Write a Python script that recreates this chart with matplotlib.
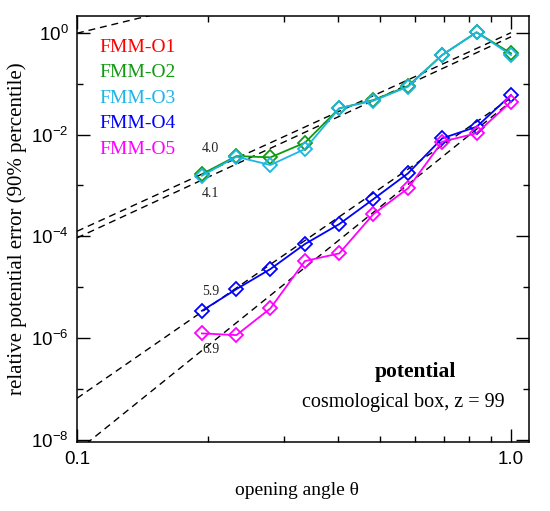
import matplotlib
matplotlib.use("Agg")
import matplotlib.pyplot as plt
from matplotlib.ticker import FixedLocator, NullFormatter

# opening angles (theta) of the runs
theta = [0.194, 0.233, 0.279, 0.335, 0.402, 0.482, 0.579, 0.694, 0.833, 1.0]

# 90% percentile of relative potential error per FMM order
err_o2 = [1.67e-3, 3.78e-3, 3.56e-3, 6.9e-3, 3.27e-2, 4.76e-2, 8.97e-2, 0.365, 1.02, 0.394]
err_o3 = [1.55e-3, 3.66e-3, 2.52e-3, 5.19e-3, 3.27e-2, 4.61e-2, 8.69e-2, 0.365, 1.02, 0.365]
err_o4 = [3.45e-6, 9.2e-6, 2.28e-5, 7.06e-5, 1.74e-4, 5.4e-4, 1.73e-3, 8.42e-3, 1.42e-2, 5.97e-2]
err_o5 = [1.24e-6, 1.15e-6, 3.85e-6, 3.27e-5, 4.63e-5, 2.74e-4, 8.77e-4, 7.22e-3, 1.06e-2, 4.41e-2]

names = ["FMM-O1", "FMM-O2", "FMM-O3", "FMM-O4", "FMM-O5"]
colors = ["#ff0000", "#109a10", "#1cb6e6", "#0000ff", "#ff00ff"]

# power-law guide lines: value at theta=0.1 and theta=1.0
fit_theta = [0.1, 1.0]
fit_o1 = [10**-0.01, 10**2.06]
fit_a = [10**-3.90, 10**0.0]
fit_b = [10**-4.03, 10**-0.08]
fit_c = [10**-7.18, 10**-1.28]
fit_d = [10**-8.22, 10**-1.35]
slope_labels = ["4.0", "4.1", "5.9", "6.9"]

serif = "Liberation Serif"
sans = "Liberation Sans"

fig = plt.figure(figsize=(5.5, 5.11), dpi=100)
ax = fig.add_axes([0.140, 0.1356, 0.8218, 0.8331])
ax.set_xscale("log")
ax.set_yscale("log")

for fy in [fit_o1, fit_a, fit_b, fit_c, fit_d]:
    ax.plot(fit_theta, fy, color="black", lw=1.0, dashes=(5, 3.5), zorder=1)

for err, c in zip([err_o2, err_o3, err_o4, err_o5], colors[1:]):
    ax.plot(theta, err, color=c, lw=1.3, marker="D", ms=6.8, mfc="none",
            mec=c, mew=1.3, zorder=2)

ax.set_xlim(0.1, 1.10)
ax.set_ylim(9.26e-9, 2.13)

ax.xaxis.set_major_locator(FixedLocator([0.1, 1.0]))
ax.xaxis.set_minor_locator(FixedLocator([0.2, 0.3, 0.4, 0.5, 0.6, 0.7, 0.8, 0.9]))
ax.set_xticklabels(["0.1", "1.0"])
ax.xaxis.set_minor_formatter(NullFormatter())

ax.yaxis.set_major_locator(FixedLocator([1e-8, 1e-6, 1e-4, 1e-2, 1e0]))
ax.yaxis.set_minor_locator(FixedLocator([1e-7, 1e-5, 1e-3, 1e-1]))
ax.set_yticklabels([r"$\mathdefault{10^{-8}}$", r"$\mathdefault{10^{-6}}$",
                    r"$\mathdefault{10^{-4}}$", r"$\mathdefault{10^{-2}}$",
                    r"$\mathdefault{10^{0}}$"])
ax.yaxis.set_minor_formatter(NullFormatter())

ax.tick_params(which="both", direction="in", top=True, right=True, width=1.0)
ax.tick_params(which="major", length=9.5, pad=7, labelsize=13.5)
ax.tick_params(axis="y", which="major", pad=6)
ax.tick_params(which="minor", length=4.5)
for lab in ax.get_xticklabels() + ax.get_yticklabels():
    lab.set_fontfamily(sans)
for sp in ax.spines.values():
    sp.set_linewidth(1.1)

ax.set_xlabel("opening angle \u03b8", fontfamily=serif, fontsize=14, labelpad=10)
ax.xaxis.label.set_x(0.487)
ax.set_ylabel("relative potential error (90% percentile)", fontfamily=serif,
              fontsize=15, labelpad=3)

for i, (n, c) in enumerate(zip(names, colors)):
    ax.text(0.049, 0.916 - 0.06 * i, n, color=c, fontfamily=serif, fontsize=14,
            transform=ax.transAxes, va="baseline")

for lab, ya in zip(slope_labels, [0.680, 0.5755, 0.3446, 0.2091]):
    ax.text(0.2765, ya, lab, color="#222222", fontfamily=serif, fontsize=10,
            transform=ax.transAxes, va="baseline")

ax.text(0.749, 0.151, "potential", fontfamily=serif, fontsize=15.5, fontweight="bold",
        ha="center", va="baseline", transform=ax.transAxes)
ax.text(0.723, 0.0805, "cosmological box, z = 99", fontfamily=serif, fontsize=14.5,
        ha="center", va="baseline", transform=ax.transAxes)

fig.savefig("out.png", dpi=100)
